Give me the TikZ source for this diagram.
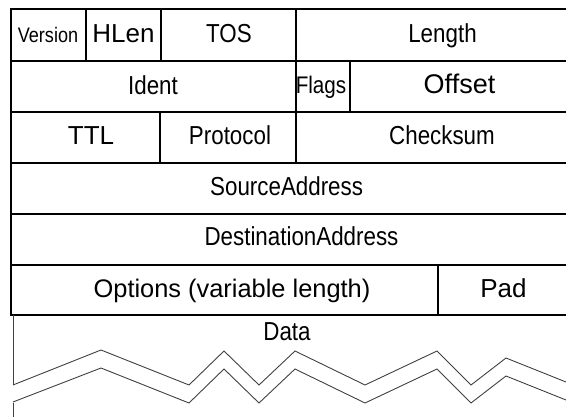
\documentclass[tikz,border=0pt]{standalone}
\usepackage{fontspec}
\setmainfont{Liberation Sans}
\newfontfamily\narrowsans[FakeStretch=0.86]{Liberation Sans}
\begin{document}
\begin{tikzpicture}[x=1pt,y=-1pt,
  grid/.style={line width=2.4pt, line cap=rect},
  wave/.style={line width=0.9pt, draw=black!75, line join=miter},
  edge/.style={line width=0.9pt, draw=black!75},
  lbl/.style={inner sep=0pt, anchor=base, font=\fontsize{26}{30}\selectfont},
  nlbl/.style={inner sep=0pt, anchor=base, font=\narrowsans\fontsize{26}{30}\selectfont},
  slbl/.style={inner sep=0pt, anchor=base, font=\narrowsans\fontsize{21}{25}\selectfont}]
\useasboundingbox (0,0) rectangle (566,417);
\clip (0,0) rectangle (566,417);

% header frame and rows
\draw[grid] (11,9) rectangle (590,315);
\foreach \y in {61,112,163,214,265}
  \draw[grid] (11,\y) -- (590,\y);
% column dividers
\draw[grid] (86,9) -- (86,61);
\draw[grid] (161,9) -- (161,61);
\draw[grid] (296,9) -- (296,163);
\draw[grid] (350,61) -- (350,112);
\draw[grid] (160,112) -- (160,163);
\draw[grid] (438,265) -- (438,315);

% field labels
\node[slbl] (version) at (48,43) {Version};
\node[lbl]  (hlen)    at (123.5,43) {HLen};
\node[nlbl] (tos)     at (229,43) {TOS};
\node[nlbl] (length)  at (442.5,43) {Length};
\node[nlbl] (ident)   at (153,94.5) {Ident};
\node[nlbl, font=\narrowsans\fontsize{24}{28}\selectfont] (flags) at (321,94) {Flags};
\node[lbl, font=\fontsize{27}{30}\selectfont] (offset) at (459.5,94) {Offset};
\node[lbl]  (ttl)     at (91,145) {TTL};
\node[nlbl] (proto)   at (230,145) {Protocol};
\node[nlbl] (csum)    at (442,145) {Checksum};
\node[nlbl] (src)     at (286.6,195.5) {SourceAddress};
\node[nlbl] (dst)     at (301.5,246) {DestinationAddress};
\node[lbl, font=\fontsize{25.4}{30}\selectfont] (opts) at (232,298) {Options (variable length)};
\node[lbl]  (pad)     at (503.5,298) {Pad};
\node[nlbl] (data)    at (287,341) {Data};

% data area with a torn edge
\draw[edge] (13,315) -- (13,385);
\draw[edge] (13,403) -- (13,417);
\draw[wave] (13,385) -- (101,350) -- (189,385) -- (224,351) -- (259,385)
  -- (295,351) -- (365,385) -- (437,351) -- (471,385) -- (506,358) -- (566,382);
\draw[wave] (13,402) -- (101,368) -- (189,403) -- (224,369) -- (259,403)
  -- (295,369) -- (365,403) -- (437,369) -- (471,403) -- (506,376) -- (566,400);
\end{tikzpicture}
\end{document}
